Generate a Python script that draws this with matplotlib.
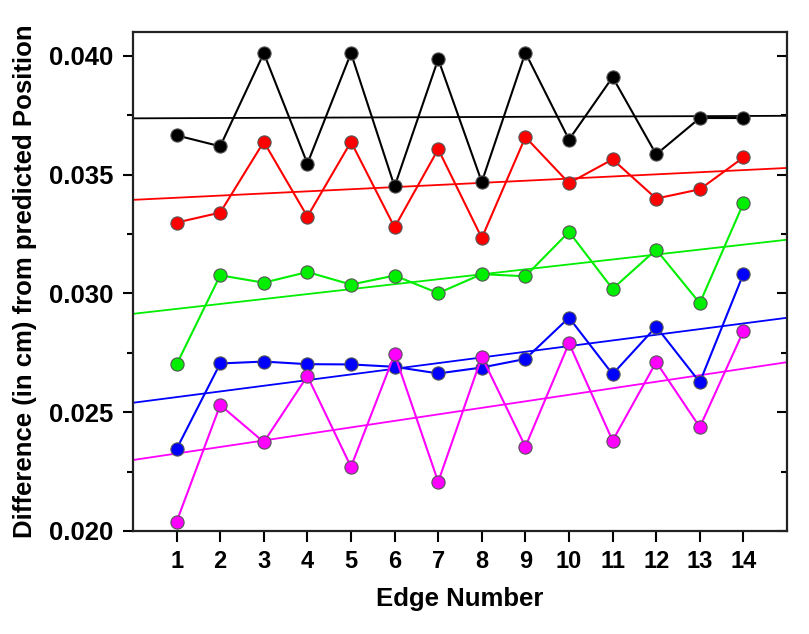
import numpy as np
import matplotlib.pyplot as plt
from matplotlib.ticker import MultipleLocator
from matplotlib.lines import TICKLEFT

plt.rcParams['font.family'] = ['Liberation Sans', 'DejaVu Sans']
plt.rcParams['font.weight'] = 'bold'

# edge numbers
edges = np.arange(1, 15)

# differences (cm) for each series
black = [0.03665, 0.03619, 0.04011, 0.03546, 0.04011, 0.03450, 0.03986,
         0.03469, 0.04013, 0.03647, 0.03910, 0.03585, 0.03738, 0.03738]
red = [0.03298, 0.03340, 0.03638, 0.03323, 0.03638, 0.03278, 0.03607,
       0.03233, 0.03658, 0.03464, 0.03564, 0.03399, 0.03438, 0.03572]
green = [0.02701, 0.03076, 0.03045, 0.03090, 0.03037, 0.03075, 0.03001,
         0.03081, 0.03072, 0.03259, 0.03019, 0.03184, 0.02959, 0.03379]
blue = [0.02345, 0.02705, 0.02713, 0.02702, 0.02701, 0.02691, 0.02663,
        0.02688, 0.02724, 0.02898, 0.02660, 0.02860, 0.02626, 0.03082]
magenta = [0.02039, 0.02530, 0.02374, 0.02652, 0.02270, 0.02744, 0.02207,
           0.02733, 0.02355, 0.02790, 0.02380, 0.02711, 0.02437, 0.02841]

series = [(black, '#000000'), (red, '#ff0000'), (green, '#00ee00'),
          (blue, '#0000ff'), (magenta, '#ff00ff')]

fig = plt.figure(figsize=(8.09, 6.34), dpi=100)
ax = fig.add_axes([0.1644, 0.1625, 0.8084, 0.787])

xfit = np.array([0, 15])
for vals, col in series:
    # linear fit across the full axis
    k, b = np.polyfit(edges, vals, 1)
    ax.plot(xfit, k * xfit + b, color=col, lw=1.3, zorder=2)
    ax.plot(edges, vals, color=col, lw=1.5, marker='o', ms=9.5,
            markerfacecolor=col, markeredgecolor='#555555', markeredgewidth=0.8,
            zorder=3)

ax.set_xlim(0, 15)
ax.set_ylim(0.020, 0.041)
ax.set_xticks(edges)
ax.yaxis.set_major_locator(MultipleLocator(0.005))
ax.yaxis.set_minor_locator(MultipleLocator(0.0025))
ax.yaxis.set_major_formatter(plt.FormatStrFormatter('%.3f'))

for s in ax.spines.values():
    s.set_linewidth(1.6)
    s.set_color('#222222')

ax.tick_params(axis='x', which='major', direction='out', length=8, width=1.5,
               labelsize=17, pad=6)
ax.tick_params(axis='y', which='major', direction='out', length=7, width=1.5,
               labelsize=18.5, pad=7, right=True)
ax.tick_params(axis='y', which='minor', direction='out', length=4, width=1.5,
               right=True)
# right-hand ticks point into the plot
for t in ax.yaxis.get_major_ticks() + ax.yaxis.get_minor_ticks():
    t.tick2line.set_marker(TICKLEFT)

ax.set_xlabel('Edge Number', fontsize=18.5, fontweight='bold', labelpad=10)
ax.set_ylabel('Difference (in cm) from predicted Position', fontsize=18.5,
              fontweight='bold', labelpad=9)

fig.savefig('out.png', dpi=100)
